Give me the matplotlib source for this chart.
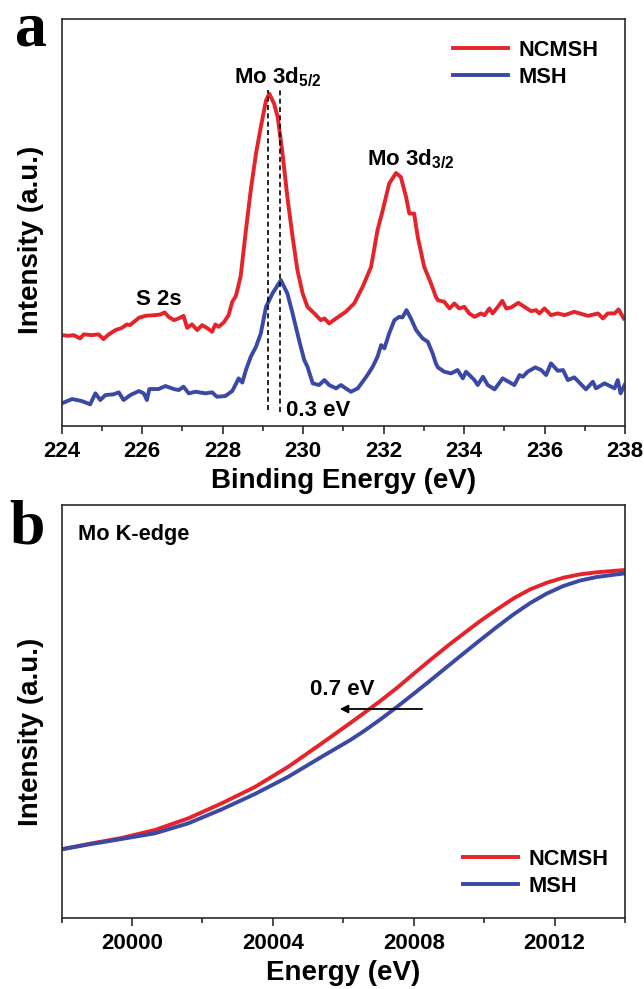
import matplotlib
matplotlib.use("Agg")
import matplotlib.pyplot as plt
from matplotlib.ticker import MultipleLocator

plt.rcParams['font.family'] = ['Liberation Sans', 'DejaVu Sans']
plt.rcParams['font.weight'] = 'bold'
plt.rcParams['axes.labelweight'] = 'bold'
plt.rcParams['mathtext.fontset'] = 'custom'
plt.rcParams['mathtext.rm'] = 'Liberation Sans:bold'
plt.rcParams['mathtext.it'] = 'Liberation Sans:bold'
plt.rcParams['mathtext.bf'] = 'Liberation Sans:bold'

RED = '#e4232b'
BLUE = '#3a48a6'

# ---------------- Panel a: XPS Mo 3d ----------------
xps_ncmsh_E = [224.01, 224.17, 224.30, 224.46, 224.55, 224.75, 224.92, 225.04, 225.17, 225.34,
               225.50, 225.62, 225.70, 225.92, 226.08, 226.33, 226.46, 226.56, 226.66, 226.79,
               226.91, 227.03, 227.12, 227.24, 227.37, 227.49, 227.61, 227.74, 227.82, 227.90,
               228.03, 228.15, 228.24, 228.33, 228.45, 228.58, 228.70, 228.83, 228.95, 229.08,
               229.16, 229.28, 229.37, 229.49, 229.61, 229.74, 229.86, 229.99, 230.11, 230.28,
               230.44, 230.53, 230.65, 230.82, 231.06, 231.27, 231.48, 231.69, 231.85, 231.98,
               232.14, 232.31, 232.43, 232.56, 232.64, 232.76, 232.85, 233.01, 233.18, 233.30,
               233.35, 233.51, 233.64, 233.76, 233.88, 234.01, 234.13, 234.26, 234.42, 234.51,
               234.63, 234.71, 234.84, 234.95, 235.05, 235.17, 235.35, 235.50, 235.67, 235.79,
               235.87, 236.00, 236.16, 236.33, 236.50, 236.74, 237.08, 237.33, 237.45, 237.57,
               237.74, 237.84, 237.97]
xps_ncmsh_I = [91, 90.3, 91, 87.7, 91.7, 91, 91.7, 87, 91.7, 96,
               98.3, 101.7, 101, 108.3, 110.3, 111, 111.7, 113.7, 109.3, 106,
               107.7, 110.3, 98.3, 101.7, 96, 101, 98.3, 94.3, 101.7, 99.3,
               103.7, 111, 124.3, 130, 150, 196, 236, 272.7, 299.3, 326,
               332.7, 322.7, 309.3, 272.7, 229.3, 189.3, 156, 132.7, 119.3, 112.7,
               106, 107.7, 102.7, 107.7, 114.3, 122.7, 139.3, 159.3, 196, 216,
               242.7, 253.3, 249.3, 229.3, 212.7, 212.7, 189.3, 159.3, 142.7, 129.3,
               126, 124.3, 117.7, 122.7, 117.7, 119.3, 112.7, 109.3, 112.7, 111,
               117.7, 112.7, 119.3, 125.3, 117.7, 118.7, 123.3, 119.3, 115, 116,
               112.7, 117.7, 111, 112.7, 111, 114.3, 110.3, 112.7, 107.7, 112.7,
               112.7, 116.7, 107.7]

xps_msh_E = [224.01, 224.26, 224.50, 224.71, 224.84, 224.96, 225.09, 225.29, 225.42, 225.54,
             225.71, 225.92, 226.04, 226.12, 226.18, 226.41, 226.58, 226.79, 226.91, 227.03,
             227.16, 227.33, 227.57, 227.74, 227.86, 228.07, 228.24, 228.33, 228.40, 228.49,
             228.58, 228.70, 228.83, 228.95, 229.08, 229.24, 229.45, 229.61, 229.74, 229.90,
             230.03, 230.11, 230.24, 230.40, 230.53, 230.65, 230.82, 230.94, 231.06, 231.19,
             231.36, 231.48, 231.60, 231.73, 231.85, 231.94, 232.02, 232.14, 232.27, 232.39,
             232.47, 232.57, 232.68, 232.81, 232.97, 233.10, 233.22, 233.30, 233.35, 233.51,
             233.68, 233.84, 233.97, 234.05, 234.26, 234.34, 234.47, 234.59, 234.76, 234.96,
             235.25, 235.38, 235.46, 235.58, 235.77, 235.92, 236.04, 236.16, 236.33, 236.46,
             236.58, 236.74, 237.03, 237.20, 237.28, 237.49, 237.74, 237.82, 237.89, 237.99]
xps_msh_I = [22.7, 27, 25, 21.7, 32.7, 26, 31, 31.7, 33.7, 26,
             31, 35, 32.7, 26, 37, 37, 40, 37, 36, 39.3,
             32.7, 34.3, 32.7, 33.7, 29.3, 30, 35, 42, 47.7, 43.5,
             56, 69.3, 79.3, 92.7, 119.3, 132.7, 146, 132.7, 112.7, 86,
             66, 59.3, 42.7, 41, 46, 41, 37.7, 41, 37.7, 34.3,
             37.7, 44.3, 51, 59.3, 69.3, 81, 77.7, 92.7, 106, 109.3,
             108.7, 116, 107.7, 96, 87.7, 84.3, 72.7, 62.7, 58.7, 54.3,
             52.7, 56, 47.7, 54.3, 46, 41, 49.3, 41, 36.7, 47.7,
             41, 51, 49.3, 54.3, 58.7, 56, 51, 62.7, 55.3, 56,
             46, 48.7, 36.7, 44.3, 37.7, 42.7, 37.7, 46, 32.7, 41]

peak_lines_E = [229.13, 229.43]
peak_lines_top = [336, 339]
peak_lines_bottom = [16, 14]

# ---------------- Panel b: Mo K-edge XANES ----------------
xas_ncmsh_E = [19998.0, 19998.76, 19999.7, 20000.65, 20001.6, 20002.55, 20003.49, 20004.44,
               20005.39, 20006.2, 20006.57, 20007.05, 20007.52, 20007.99, 20008.47, 20008.94,
               20009.42, 20009.89, 20010.36, 20010.83, 20011.31, 20011.78, 20012.25, 20012.73,
               20013.2, 20014.0]
xas_ncmsh_I = [68.7, 74, 80, 88, 99.7, 114.7, 131, 151.3,
               174.7, 195, 204.5, 217, 230, 244, 258, 271.5,
               284.5, 297, 308.5, 319.5, 328.7, 335.3, 340.3, 343.7,
               345.7, 348]

xas_msh_E = [19998.0, 19998.76, 19999.7, 20000.65, 20001.6, 20002.55, 20003.49, 20004.44,
             20005.39, 20006.2, 20006.57, 20007.05, 20007.52, 20007.99, 20008.47, 20008.94,
             20009.42, 20009.89, 20010.36, 20010.83, 20011.31, 20011.78, 20012.25, 20012.73,
             20013.2, 20014.0]
xas_msh_I = [68.7, 73.5, 79, 84.7, 94.7, 108.7, 124, 141.3,
             161.3, 178, 186.5, 198.5, 211, 224, 237.5, 251,
             264.7, 278, 291, 303.5, 315, 324.5, 332, 337.5,
             341, 344.7]

shift_arrow_E = [20008.24, 20005.9]
shift_arrow_I = 209

W, H = 644, 989
fig = plt.figure(figsize=(W / 100, H / 100), dpi=100)

def ax_rect(l, t, r, b):
    return [l / W, 1 - b / H, (r - l) / W, (b - t) / H]

axa = fig.add_axes(ax_rect(61.6, 18.5, 625, 426))
axb = fig.add_axes(ax_rect(61.6, 505, 625, 918))

lw = 2.8
axa.plot(xps_ncmsh_E, xps_ncmsh_I, color=RED, lw=lw, label='NCMSH', solid_joinstyle='round')
axa.plot(xps_msh_E, xps_msh_I, color=BLUE, lw=lw, label='MSH', solid_joinstyle='round')
for e, t, b in zip(peak_lines_E, peak_lines_top, peak_lines_bottom):
    axa.plot([e, e], [b, t], color='black', lw=1.2, ls=(0, (3, 2)))

axa.set_xlim(224, 238)
axa.set_ylim(0, 408)
axa.xaxis.set_major_locator(MultipleLocator(2))
axa.xaxis.set_minor_locator(MultipleLocator(1))
axa.set_yticks([])
axa.set_xlabel('Binding Energy (eV)', fontsize=20, labelpad=4)
axa.set_ylabel('Intensity (a.u.)', fontsize=20)
axa.yaxis.set_label_coords(-0.031, 0.456)

axa.text(228.28, 343, r'Mo 3d$_{5/2}$', fontsize=16, ha='left', va='baseline')
axa.text(231.60, 261, r'Mo 3d$_{3/2}$', fontsize=16, ha='left', va='baseline')
axa.text(225.84, 121, 'S 2s', fontsize=16, ha='left', va='baseline')
axa.text(229.57, 10, '0.3 eV', fontsize=16, ha='left', va='baseline')

axa.legend(loc='upper left', bbox_to_anchor=(0.695, 0.948), frameon=False,
           fontsize=15.7, handlelength=2.5, handletextpad=0.5, labelspacing=0.28,
           borderpad=0, borderaxespad=0)

axb.plot(xas_ncmsh_E, xas_ncmsh_I, color=RED, lw=lw, label='NCMSH')
axb.plot(xas_msh_E, xas_msh_I, color=BLUE, lw=lw, label='MSH')
axb.annotate('', xy=(shift_arrow_E[1], shift_arrow_I), xytext=(shift_arrow_E[0], shift_arrow_I),
             arrowprops=dict(arrowstyle='-|>', color='black', lw=1.3, mutation_scale=12,
                             shrinkA=0, shrinkB=0))
axb.text(20005.05, 223, '0.7 eV', fontsize=16, ha='left', va='baseline')
axb.text(0.029, 0.915, 'Mo K-edge', fontsize=15.7, ha='left', va='baseline', transform=axb.transAxes)

axb.set_xlim(19998, 20014)
axb.set_ylim(0, 413)
axb.xaxis.set_major_locator(MultipleLocator(4))
axb.xaxis.set_minor_locator(MultipleLocator(2))
axb.set_yticks([])
axb.set_xlabel('Energy (eV)', fontsize=20, labelpad=4)
axb.set_ylabel('Intensity (a.u.)', fontsize=20)
axb.yaxis.set_label_coords(-0.031, 0.451)
axb.legend(loc='upper left', bbox_to_anchor=(0.7125, 0.168), frameon=False,
           fontsize=15.7, handlelength=2.5, handletextpad=0.5, labelspacing=0.28,
           borderpad=0, borderaxespad=0)

for ax in (axa, axb):
    for s in ax.spines.values():
        s.set_linewidth(1.2)
        s.set_color('#2a2a2a')
    ax.tick_params(axis='x', which='major', direction='out', length=6, width=1.2,
                   labelsize=16, pad=5, color='#2a2a2a')
    ax.tick_params(axis='x', which='minor', direction='out', length=3.5, width=1.2,
                   color='#2a2a2a')
    for lab in ax.get_xticklabels():
        lab.set_fontweight('bold')

fig.text(31 / W, 1 - 45 / H, 'a', fontsize=46, fontweight='bold', ha='center', va='baseline',
         family=['Liberation Serif', 'DejaVu Serif'])
fig.text(27 / W, 1 - 543 / H, 'b', fontsize=46, fontweight='bold', ha='center', va='baseline',
         family=['Liberation Serif', 'DejaVu Serif'])

fig.savefig('out.png', dpi=100)
